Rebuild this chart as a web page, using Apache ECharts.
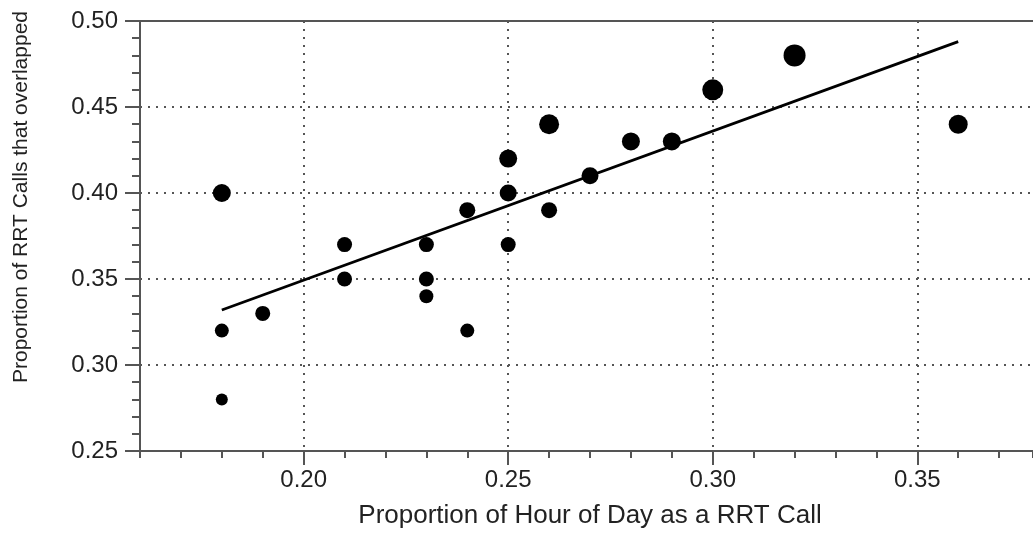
<!DOCTYPE html>
<html>
<head>
<meta charset="utf-8">
<script src="https://cdn.jsdelivr.net/npm/echarts@6/dist/echarts.min.js"></script>
<style>
  html, body { margin: 0; padding: 0; background: #fff; }
  #chart { width: 1033px; height: 534px; }
</style>
</head>
<body>
<div id="chart"></div>
<script>
// proportion of hour of day as RRT call (x) vs proportion overlapped (y)
const xVals = [0.18, 0.18, 0.18, 0.19, 0.21, 0.21, 0.23, 0.23, 0.23, 0.24, 0.24,
               0.25, 0.25, 0.25, 0.26, 0.26, 0.27, 0.28, 0.29, 0.30, 0.32, 0.36];
const yVals = [0.40, 0.32, 0.28, 0.33, 0.37, 0.35, 0.37, 0.35, 0.34, 0.39, 0.32,
               0.42, 0.40, 0.37, 0.44, 0.39, 0.41, 0.43, 0.43, 0.46, 0.48, 0.44];
const dotSizes = [18, 14, 12, 15, 15, 15, 15, 15, 14, 16, 14,
                  18, 17, 15, 20, 16, 17, 18, 18, 21, 22, 19];
// fitted line end points
const fitX = [0.18, 0.36];
const fitY = [0.332, 0.488];

const xTitle = 'Proportion of Hour of Day as a RRT Call';
const yTitle = 'Proportion of RRT Calls that overlapped';

const FONT = '"Liberation Sans", Arial, Helvetica, sans-serif';
const axisGrey = '#555';
const dotted = { color: '#555', width: 2, type: [2, 6] };

// plot runs off the right edge of the picture, so cut it at the container edge
const plotLeft = 140, xMin = 0.16, pxPerUnit = 4091;
const plotWidth = 1033 - plotLeft;
const xMax = xMin + plotWidth / pxPerUnit;

const chart = echarts.init(document.getElementById('chart'));

chart.setOption({
  animation: false,
  grid: [
    { left: plotLeft, top: 21, width: plotWidth, height: 430 },
    { left: plotLeft + (0.20 - xMin) * pxPerUnit, top: 21, width: 0.15 * pxPerUnit, height: 430 },
  ],
  xAxis: [
    {
      gridIndex: 0, type: 'value', min: xMin, max: xMax, interval: 0.01,
      axisLine: { lineStyle: { color: axisGrey, width: 2 } },
      axisTick: { length: 7, lineStyle: { color: axisGrey, width: 2 } },
      axisLabel: { show: false },
      splitLine: { show: false },
    },
    {
      gridIndex: 0, type: 'value', position: 'top', min: xMin, max: xMax,
      axisLine: { lineStyle: { color: axisGrey, width: 2 } },
      axisTick: { show: false },
      axisLabel: { show: false },
      splitLine: { show: false },
    },
    {
      gridIndex: 1, type: 'value', min: 0.20, max: 0.35, interval: 0.05,
      axisLine: { show: false },
      axisTick: { length: 14, lineStyle: { color: axisGrey, width: 2 } },
      axisLabel: {
        margin: 17, color: '#222', fontSize: 24, fontFamily: FONT,
        formatter: (v) => v.toFixed(2),
      },
      splitLine: { show: true, lineStyle: dotted },
    },
  ],
  yAxis: [
    {
      gridIndex: 0, type: 'value', min: 0.25, max: 0.50, interval: 0.05,
      axisLine: { lineStyle: { color: axisGrey, width: 2 } },
      axisTick: { length: 15, lineStyle: { color: axisGrey, width: 2 } },
      minorTick: { show: true, splitNumber: 5, length: 8, lineStyle: { color: axisGrey, width: 2 } },
      axisLabel: {
        margin: 22, color: '#222', fontSize: 24, fontFamily: FONT,
        formatter: (v) => v.toFixed(2),
      },
      splitLine: { show: true, showMinLine: false, showMaxLine: false, lineStyle: dotted },
    },
    {
      gridIndex: 1, type: 'value', min: 0.25, max: 0.50, show: false,
    },
  ],
  graphic: [
    {
      type: 'text', x: 590, y: 516,
      style: {
        text: xTitle, fill: '#222', font: '26px ' + FONT,
        textAlign: 'center', textVerticalAlign: 'middle',
      },
    },
    {
      type: 'text', x: 21, y: 197, rotation: Math.PI / 2,
      style: {
        text: yTitle, fill: '#222', font: '21px ' + FONT,
        textAlign: 'center', textVerticalAlign: 'middle',
      },
    },
  ],
  series: [
    {
      type: 'line',
      xAxisIndex: 0, yAxisIndex: 0,
      data: fitX.map((x, i) => [x, fitY[i]]),
      showSymbol: false,
      lineStyle: { color: '#000', width: 2.8 },
      z: 3,
    },
    {
      type: 'scatter',
      xAxisIndex: 0, yAxisIndex: 0,
      data: xVals.map((x, i) => [x, yVals[i], dotSizes[i]]),
      symbolSize: (d) => d[2],
      itemStyle: { color: '#000', opacity: 1 },
      z: 4,
    },
  ],
});
</script>
</body>
</html>
